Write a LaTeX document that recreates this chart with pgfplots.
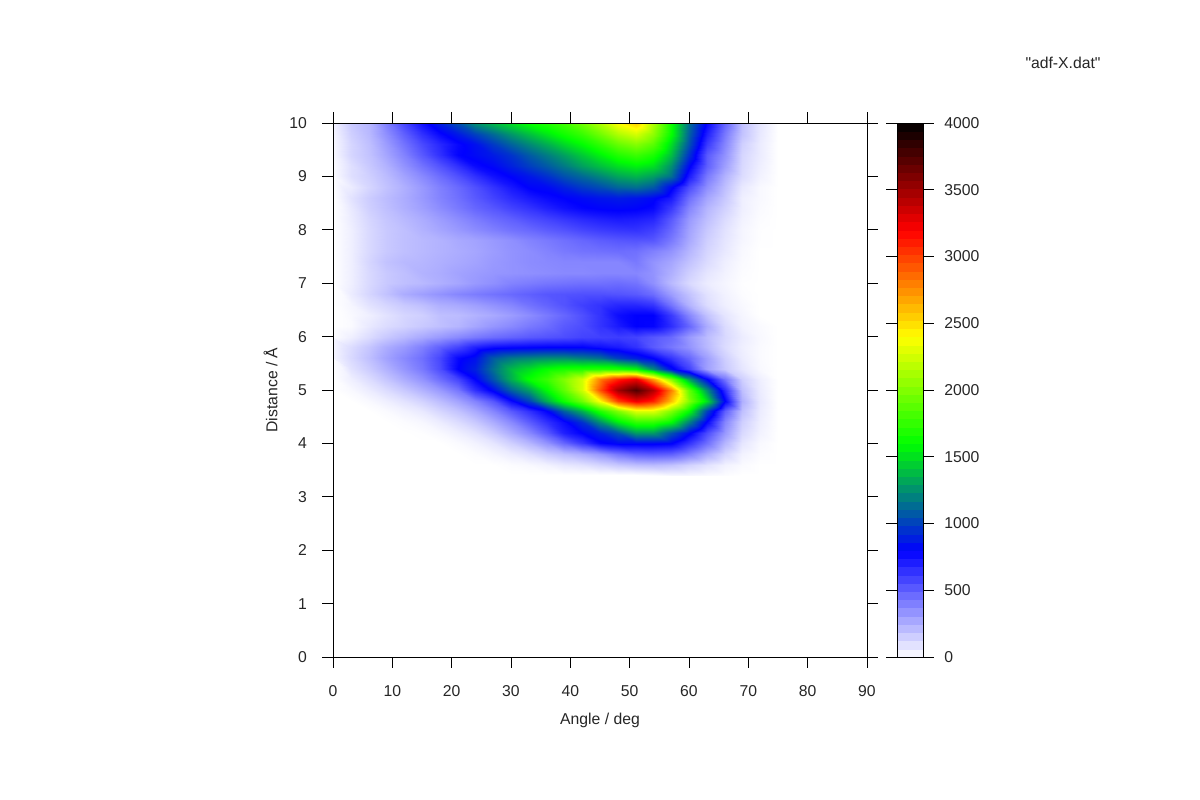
\documentclass[border=0pt]{standalone}
\usepackage{fontspec}
\setmainfont{Liberation Sans}
\newfontfamily\plainq{Liberation Sans}
\usepackage{pgfplots}
\pgfplotsset{compat=1.18}
\pgfplotsset{/pgf/number format/assume math mode=true}
\begin{document}
\begin{tikzpicture}
\path[use as bounding box] (0pt,0pt) rectangle (900pt,600pt);
\begin{axis}[
  at={(249.75pt,107.25pt)},anchor=south west,
  scale only axis,width=400.5pt,height=400.5pt,
  view={0}{90},
  xmin=0,xmax=90,ymin=0,ymax=10,
  xtick={0,10,...,90},ytick={0,1,...,10},
  tick align=outside,tick pos=both,
  major tick length=8pt,
  tick style={black,line width=0.6pt},
  axis line style={line width=0.6pt},
  axis on top,
  font=\fontsize{11.8pt}{13pt}\selectfont,
  xticklabel style={yshift=-9.5pt,text=black!85},
  yticklabel style={xshift=-8pt,text=black!85},
  xlabel={Angle / deg},ylabel={Distance / Å},
  xlabel style={yshift=-6pt,text=black!85},
  ylabel style={yshift=2pt,text=black!85},
  colormap={adf}{rgb255(0)=(255,255,255) rgb255(800)=(0,0,255) rgb255(1600)=(0,255,0) rgb255(2400)=(255,255,0) rgb255(3200)=(255,0,0) rgb255(4000)=(0,0,0)},
  point meta min=0,point meta max=4000,
  colorbar sampled,
  colorbar style={
    samples=66,
    at={(1.0562,0)},anchor=south west,
    scale only axis,width=19.5pt,height=400.5pt,
    ytick={0,500,...,4000},
    tick align=outside,
    tick pos=both,
    yticklabel pos=right,
    major tick length=8pt,
    tick style={black,line width=0.6pt},
    axis line style={line width=0.6pt},
    axis on top,
    yticklabel style={anchor=west,xshift=4.5pt,text=black!85},
    /pgf/number format/1000 sep={},
    /pgf/number format/assume math mode=true,
    font=\fontsize{11.8pt}{13pt}\selectfont,
  },
]
\addplot3[surf,shader=interp,mesh/cols=26] table[row sep=\\,header=false,
  x expr={mod(\coordindex,26)*3},
  y expr={10-floor(\coordindex/26)*0.2},
  z index=0] {
40\\170\\230\\400\\580\\750\\900\\1050\\1250\\1380\\1500\\1620\\1700\\1800\\1950\\2150\\2400\\2550\\2150\\1650\\1150\\780\\480\\200\\80\\0\\
30\\150\\220\\350\\500\\650\\780\\880\\1000\\1130\\1270\\1400\\1530\\1650\\1770\\1950\\2150\\2270\\2050\\1620\\1100\\700\\420\\190\\70\\0\\
20\\130\\200\\310\\440\\570\\680\\780\\850\\980\\1110\\1230\\1350\\1480\\1600\\1750\\1920\\2020\\1880\\1500\\1050\\620\\380\\150\\60\\0\\
20\\130\\190\\280\\390\\520\\650\\790\\830\\880\\960\\1080\\1190\\1300\\1430\\1560\\1700\\1780\\1680\\1400\\950\\520\\340\\130\\60\\0\\
10\\100\\170\\240\\340\\440\\540\\650\\770\\820\\900\\990\\1080\\1180\\1300\\1400\\1500\\1560\\1500\\1250\\820\\500\\300\\120\\50\\0\\
10\\100\\150\\210\\290\\370\\460\\550\\650\\750\\810\\870\\950\\1050\\1130\\1220\\1320\\1370\\1300\\1150\\720\\420\\240\\110\\40\\0\\
5\\60\\130\\190\\250\\320\\400\\470\\550\\640\\730\\810\\830\\900\\980\\1040\\1120\\1150\\1080\\830\\560\\350\\200\\70\\20\\0\\
0\\90\\160\\210\\260\\320\\390\\450\\520\\590\\660\\720\\770\\800\\830\\860\\880\\860\\820\\720\\450\\280\\170\\50\\20\\0\\
0\\70\\150\\200\\250\\300\\360\\420\\480\\530\\590\\640\\700\\750\\790\\810\\820\\810\\780\\620\\380\\230\\140\\50\\15\\0\\
0\\60\\130\\180\\220\\260\\310\\360\\410\\460\\500\\550\\590\\630\\670\\700\\720\\710\\680\\520\\320\\200\\110\\40\\10\\0\\
0\\50\\120\\170\\200\\240\\280\\320\\360\\400\\440\\470\\510\\540\\580\\610\\630\\640\\600\\470\\290\\170\\90\\30\\5\\0\\
0\\50\\120\\170\\200\\220\\240\\270\\290\\320\\350\\390\\420\\450\\480\\510\\530\\540\\530\\420\\270\\150\\80\\30\\5\\0\\
0\\50\\120\\170\\200\\220\\240\\260\\280\\310\\340\\360\\390\\420\\440\\450\\460\\450\\400\\340\\230\\130\\70\\20\\0\\0\\
0\\50\\130\\190\\220\\230\\250\\270\\290\\320\\340\\360\\370\\380\\380\\380\\380\\420\\340\\280\\190\\110\\50\\15\\0\\0\\
0\\50\\120\\170\\200\\240\\260\\290\\310\\330\\340\\350\\360\\370\\370\\380\\380\\380\\340\\250\\150\\80\\40\\10\\0\\0\\
0\\50\\120\\170\\200\\220\\250\\280\\320\\350\\390\\410\\430\\440\\450\\450\\460\\440\\350\\220\\120\\60\\30\\5\\0\\0\\
0\\60\\130\\190\\260\\300\\340\\380\\410\\440\\470\\500\\530\\540\\550\\550\\540\\520\\460\\310\\190\\90\\40\\10\\0\\0\\
0\\30\\90\\130\\170\\200\\250\\270\\300\\340\\380\\440\\490\\540\\600\\640\\680\\680\\640\\440\\240\\110\\50\\20\\0\\0\\
0\\20\\50\\90\\130\\150\\200\\210\\240\\270\\310\\360\\420\\480\\550\\640\\760\\800\\800\\620\\380\\190\\80\\30\\0\\0\\
0\\15\\70\\110\\140\\170\\200\\230\\280\\330\\370\\420\\460\\520\\560\\640\\720\\800\\790\\660\\480\\260\\110\\40\\15\\0\\
5\\50\\110\\170\\220\\270\\320\\370\\420\\460\\490\\520\\540\\560\\590\\600\\610\\590\\530\\470\\320\\210\\120\\60\\20\\0\\
30\\110\\180\\260\\320\\400\\500\\590\\700\\760\\780\\790\\800\\800\\800\\760\\720\\650\\520\\430\\340\\220\\110\\50\\15\\0\\
30\\120\\200\\290\\370\\450\\580\\780\\850\\1080\\1180\\1220\\1250\\1250\\1200\\1150\\1000\\900\\800\\640\\480\\300\\150\\60\\15\\0\\
10\\90\\160\\240\\330\\420\\560\\800\\900\\1150\\1380\\1500\\1620\\1680\\1700\\1720\\1700\\1600\\1250\\850\\600\\300\\170\\80\\20\\0\\
0\\50\\110\\180\\260\\340\\460\\590\\800\\1060\\1350\\1620\\1780\\2000\\2250\\2800\\3100\\3250\\2700\\2000\\1300\\800\\430\\150\\50\\0\\
0\\20\\60\\110\\170\\240\\320\\430\\650\\830\\1100\\1300\\1600\\1900\\2250\\2950\\3500\\3750\\3450\\2800\\1900\\1250\\650\\200\\60\\0\\
0\\0\\20\\50\\90\\140\\210\\290\\390\\530\\770\\1000\\1350\\1650\\1950\\2400\\3000\\3250\\3100\\2600\\2000\\1500\\800\\250\\70\\0\\
0\\0\\0\\15\\40\\70\\130\\190\\270\\380\\520\\650\\800\\1100\\1350\\1700\\2000\\2300\\2300\\2000\\1600\\1000\\500\\200\\60\\0\\
0\\0\\0\\0\\10\\25\\60\\110\\170\\260\\370\\510\\650\\770\\950\\1250\\1550\\1750\\1750\\1600\\1200\\780\\380\\150\\50\\0\\
0\\0\\0\\0\\0\\5\\20\\50\\90\\160\\260\\370\\520\\700\\800\\900\\1050\\1280\\1280\\1050\\820\\560\\320\\120\\40\\0\\
0\\0\\0\\0\\0\\0\\0\\15\\40\\80\\150\\230\\340\\480\\620\\780\\830\\830\\830\\810\\640\\450\\230\\80\\20\\0\\
0\\0\\0\\0\\0\\0\\0\\0\\10\\30\\60\\100\\160\\210\\260\\330\\430\\500\\520\\500\\400\\260\\130\\40\\10\\0\\
0\\0\\0\\0\\0\\0\\0\\0\\0\\0\\10\\20\\40\\70\\90\\130\\170\\200\\210\\190\\140\\90\\40\\15\\0\\0\\
0\\0\\0\\0\\0\\0\\0\\0\\0\\0\\0\\0\\0\\0\\0\\0\\0\\0\\10\\30\\30\\20\\10\\0\\0\\0\\
};
\end{axis}
\node[font=\plainq\fontsize{11.8pt}{13pt}\selectfont,text=black!85] at (797.25pt,552.75pt) {"adf-X.dat"};
\end{tikzpicture}
\end{document}
